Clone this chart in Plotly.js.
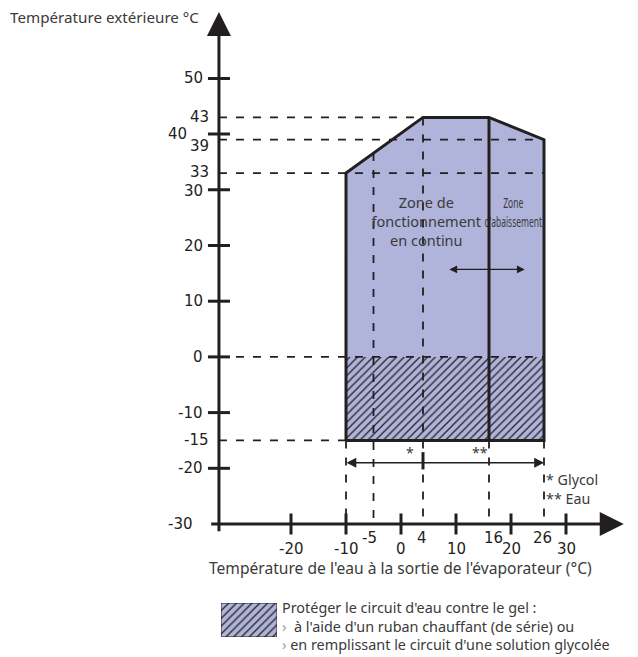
<!DOCTYPE html>
<html><head><meta charset="utf-8">
<script src="https://cdn.plot.ly/plotly-3.0.1.min.js"></script>
<style>html,body{margin:0;padding:0;background:#fff}</style>
</head><body><div id="chart" style="width:638px;height:657px"></div>
<script>
// ---------- data ----------
const envX = [-10, -10, 4, 16, 26, 26, -10];
const envY = [-15, 33, 43, 43, 39, -15, -15];
const dividerX = [16, 16];
const dividerY = [-15, 43];
const frostX = [-10, 26, 26, -10, -10];
const frostY = [-15, -15, 0, 0, -15];
const refLevels = [43, 39, 33, 0, -15];
const refLevelEnds = [4, 26, 26, 26, -10];
const refTemps = [-10, -5, 4, 16, 26];
const refTempTops = [-15, 36.6, 43, -15, -15];
const yTickVals = [50, 40, 30, 20, 10, 0, -10, -20];
const xTickVals = [-20, -10, 0, 10, 20, 30];
const yLabelVals = [50, 43, 40, 39, 33, 30, 20, 10, 0, -10, -15, -20, -30];
const xLabelVals = [-20, -10, -5, 0, 4, 10, 16, 20, 26, 30];
const fluidRange = [-10, 26];
const fluidSplit = 4;
const fluidLevel = -19;
const fluidMarks = ['*', '**'];
const fluidMarkX = [1.7, 14.4];
const fluidNames = ['* Glycol', '** Eau'];
const zoneArrowX = [8.7, 22.5];
const zoneArrowY = 15.7;
const axisOrigin = [-33.1, -30];
const axisTips = [40.5, 61.9];
const legendSwatch = [1];

const yTitle = 'Température extérieure °C';
const xTitle = "Température de l'eau à la sortie de l'évaporateur (°C)";
const zoneA = 'Zone de<br>fonctionnement<br>en continu';
const zoneB = ['Zone', "d'abaissement"];
const legendLines = [
  'Protéger le circuit d\'eau contre le gel :',
  '<span style="color:#9a9a9a">›</span>  à l\'aide d\'un ruban chauffant (de série) ou',
  '<span style="color:#9a9a9a">›</span> en remplissant le circuit d\'une solution glycolée'
];

// ---------- layout geometry ----------
const W = 638, H = 657;
const PX0 = 401, PXU = 5.5, PY0 = 356.9, PYU = 5.57;
const xRange = [-36, 41], yRange = [-33, 63];
const xPix = v => PX0 + v * PXU;
const yPix = v => PY0 - v * PYU;
const INK = '#231f20', TXT = '#3a3a3a', FILL = '#b0b3da';
const SANS = 'Noto Sans, sans-serif';
const numFont = {family: 'DejaVu Sans, sans-serif', size: 15, color: INK};

// ---------- traces ----------
const traces = [];
traces.push({x: envX, y: envY, mode: 'lines', fill: 'toself', fillcolor: FILL,
  line: {width: 0, color: FILL}, hoverinfo: 'skip'});
traces.push({x: frostX, y: frostY, mode: 'lines', fill: 'toself', fillcolor: FILL,
  fillpattern: {shape: '/', fgcolor: INK, bgcolor: FILL, size: 5.5, solidity: 0.22},
  line: {width: 0, color: FILL}, hoverinfo: 'skip'});

// dashed reference lines
const dx = [], dy = [];
refLevels.forEach((v, i) => { dx.push(axisOrigin[0], refLevelEnds[i], null); dy.push(v, v, null); });
refTemps.forEach((v, i) => { dx.push(v, v, null); dy.push(refTempTops[i], axisOrigin[1], null); });
traces.push({x: dx, y: dy, mode: 'lines', line: {color: INK, width: 1.8, dash: '8px,9px'}, hoverinfo: 'skip'});

// zone labels (under the divider)
traces.push({x: [4.6], y: [24.0], mode: 'text', text: [zoneA], textposition: 'middle center',
  textfont: {family: SANS, size: 14.5, color: TXT}, hoverinfo: 'skip'});
traces.push({x: [20.4, 20.4], y: [27.4, 24.0], mode: 'text', text: zoneB, textposition: 'middle center',
  textfont: {family: SANS, size: 15, color: TXT}, hoverinfo: 'skip'});

// envelope outline and divider
traces.push({x: envX, y: envY, mode: 'lines', line: {color: INK, width: 3}, hoverinfo: 'skip'});
traces.push({x: dividerX, y: dividerY, mode: 'lines', line: {color: INK, width: 3}, hoverinfo: 'skip'});

// crossing tick marks
const yHalf = 11 / PXU, xHalf = 10.5 / PYU;
const tx = [], ty = [];
yTickVals.forEach(v => { tx.push(axisOrigin[0] - yHalf, axisOrigin[0] + yHalf, null); ty.push(v, v, null); });
xTickVals.forEach(v => { tx.push(v, v, null); ty.push(axisOrigin[1] - xHalf, axisOrigin[1] + xHalf, null); });
tx.push(fluidSplit, fluidSplit, null); ty.push(fluidLevel + 1.9, fluidLevel - 1.2, null);
traces.push({x: tx, y: ty, mode: 'lines', line: {color: INK, width: 3}, hoverinfo: 'skip'});

// legend swatch (own small axes)
traces.push({type: 'bar', x: [0], y: legendSwatch, width: [1], xaxis: 'x2', yaxis: 'y2',
  marker: {color: FILL, pattern: {shape: '/', fgcolor: INK, bgcolor: FILL, size: 5.5, solidity: 0.22},
    line: {color: INK, width: 1}}, hoverinfo: 'skip'});

// ---------- annotations ----------
const ann = [];
const arrow = (x, y, ax, ay, o) => Object.assign({xref: 'x', yref: 'y', axref: 'x', ayref: 'y',
  x: x, y: y, ax: ax, ay: ay, text: ' ', font: {size: 1}, borderpad: 0, showarrow: true,
  arrowcolor: INK, standoff: 0, startstandoff: 0}, o);
ann.push(arrow(axisOrigin[0], axisTips[1], axisOrigin[0], axisOrigin[1] - 1.5, {arrowhead: 2, arrowwidth: 3, arrowsize: 1.6}));
ann.push(arrow(axisTips[0], axisOrigin[1], axisOrigin[0] - 1.5, axisOrigin[1], {arrowhead: 2, arrowwidth: 3, arrowsize: 1.6}));
ann.push(arrow(fluidRange[1], fluidLevel, fluidRange[0], fluidLevel, {arrowhead: 2, startarrowhead: 2,
  arrowside: 'end+start', arrowwidth: 1.4, arrowsize: 1.4, startarrowsize: 1.4}));
ann.push(arrow(zoneArrowX[1], zoneArrowY, zoneArrowX[0], zoneArrowY, {arrowhead: 2, startarrowhead: 2,
  arrowside: 'end+start', arrowwidth: 1.3, arrowsize: 1.2, startarrowsize: 1.2}));

// y tick labels
yLabelVals.forEach(v => {
  let xs = yTickVals.includes(v) ? -15 : -9, ys = 0;
  if (v === 40) { xs = -31; }
  if (v === 39) { ys = -6; }
  if (v === 33) { ys = 1; }
  if (v === 30) { ys = -1; }
  if (v === -30) { xs = -25; }
  ann.push({xref: 'x', yref: 'y', x: axisOrigin[0], y: v, xanchor: 'right', yanchor: 'middle',
    xshift: xs, yshift: ys, text: String(v), showarrow: false, font: numFont, borderpad: 0});
});
// x tick labels
xLabelVals.forEach(v => {
  const raised = !xTickVals.includes(v);
  let xs = 0;
  if (v === -5) xs = -4;
  if (v === 4) xs = -1;
  if (v === 16) xs = 4;
  if (v === 26) xs = -1.5;
  ann.push({xref: 'x', yref: 'y', x: v, y: axisOrigin[1], xanchor: 'center', yanchor: 'middle',
    xshift: xs, yshift: raised ? -13.7 : -24.7, text: String(v), showarrow: false, font: numFont, borderpad: 0});
});
fluidMarks.forEach((t, i) => ann.push({xref: 'x', yref: 'y', x: fluidMarkX[i], y: fluidLevel + 1.8,
  text: t, showarrow: false, xanchor: 'center', yanchor: 'middle', font: {family: SANS, size: 14, color: TXT}}));
// fluid key (two lines, one block)
ann.push({xref: 'x', yref: 'y', x: fluidRange[1], y: -23.7, xshift: 1,
  text: fluidNames.join('<br>'), showarrow: false, xanchor: 'left', yanchor: 'middle', align: 'left',
  borderpad: 0, font: {family: SANS, size: 14.3, color: TXT}});

// titles
ann.push({xref: 'paper', yref: 'paper', x: 8 / W, y: 1 - 17.5 / H, xanchor: 'left', yanchor: 'middle',
  text: yTitle, showarrow: false, font: {family: SANS, size: 15.2, color: TXT}});
ann.push({xref: 'paper', yref: 'paper', x: 400.5 / W, y: 1 - 568 / H, xanchor: 'center', yanchor: 'middle',
  text: xTitle, showarrow: false, font: {family: SANS, size: 15.6, color: TXT}});
// legend text block
ann.push({xref: 'paper', yref: 'paper', x: 281 / W, y: 1 - 626 / H,
  xanchor: 'left', yanchor: 'middle', text: legendLines.join('<br>'), showarrow: false, align: 'left',
  borderpad: 0, font: {family: SANS, size: 14.4, color: TXT}});

const hidden = {showgrid: false, zeroline: false, showticklabels: false, ticks: '', showline: false, fixedrange: true};
const layout = {
  width: W, height: H, autosize: false, showlegend: false,
  margin: {l: 0, r: 0, t: 0, b: 0, pad: 0},
  paper_bgcolor: '#fff', plot_bgcolor: 'rgba(0,0,0,0)',
  xaxis: Object.assign({}, hidden, {range: xRange, domain: [xPix(xRange[0]) / W, xPix(xRange[1]) / W]}),
  yaxis: Object.assign({}, hidden, {range: yRange, domain: [(H - yPix(yRange[0])) / H, (H - yPix(yRange[1])) / H]}),
  xaxis2: Object.assign({}, hidden, {range: [-0.5, 0.5], domain: [221 / W, 277 / W], anchor: 'y2'}),
  yaxis2: Object.assign({}, hidden, {range: [0, 1], domain: [(H - 637) / H, (H - 603) / H], anchor: 'x2'}),
  annotations: ann
};
Plotly.newPlot('chart', traces, layout, {displayModeBar: false, staticPlot: true}).then(gd => {
  // squeeze the narrow "Zone d'abaissement" label horizontally, as in the reference
  const layers = gd.querySelectorAll('.scatterlayer .trace');
  const g = layers[4];
  if (!g) return;
  const texts = g.querySelectorAll('text');
  let widest = 0;
  texts.forEach(t => { widest = Math.max(widest, t.getBBox().width); });
  const sx = widest > 0 ? 58 / widest : 1;
  texts.forEach(t => {
    const cx = parseFloat(t.getAttribute('x'));
    t.setAttribute('transform', `translate(${cx},0) scale(${sx},1) translate(${-cx},0)`);
  });
});
</script></body></html>
